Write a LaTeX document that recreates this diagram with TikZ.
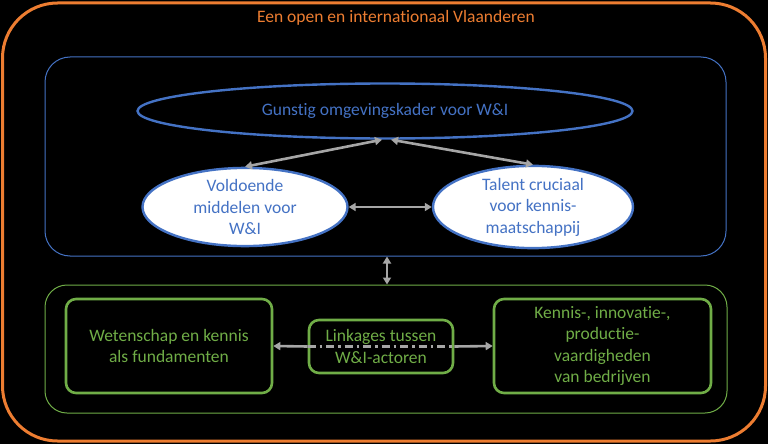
\documentclass[tikz,border=0pt]{standalone}
\usepackage{fontspec}
\setmainfont{Carlito}[Ligatures=NoCommon]
\usetikzlibrary{shapes.geometric,arrows.meta}
\definecolor{orng}{HTML}{ED7D31}
\definecolor{blu}{HTML}{4472C4}
\definecolor{grn}{HTML}{70AD47}
\definecolor{arrgray}{HTML}{A6A6A6}
\begin{document}
\begin{tikzpicture}[x=1pt,y=-1pt,
  txt/.style={font=\fontsize{17.5}{21.5}\selectfont, align=center},
  frame/.style={draw, rounded corners=#1, inner sep=0pt},
  ell/.style={ellipse, draw=blu, line width=2.4pt, inner sep=0pt, txt, text=blu},
  gbox/.style={draw=grn, line width=2.6pt, rounded corners=10pt, inner sep=0pt, txt, text=grn, fill=black},
  tip/.style={Triangle[length=7pt,width=8pt]},
  arr/.style={draw=arrgray, line width=2.6pt, {Triangle[length=7pt,width=8pt]}-{Triangle[length=7pt,width=8pt]}}
]
\useasboundingbox (0,0) rectangle (768,444);
\fill[black] (0,0) rectangle (768,444);
% outer frame
\node[frame=55pt, draw=orng, line width=3pt, minimum width=763pt, minimum height=438pt] (outer) at (384,222) {};
\node[txt, text=orng] (title) at (396,18) {Een open en internationaal Vlaanderen};
% blue frame
\node[frame=25pt, draw=blu, line width=1pt, minimum width=681pt, minimum height=199pt] (bluef) at (385.5,156.5) {};
\node[ell, fill=black, minimum width=495pt, minimum height=55pt] (big) at (385,111) {Gunstig omgevingskader voor W\&I};
\node[ell, fill=white, minimum width=205pt, minimum height=78pt] (left) at (245,207) {Voldoende\\middelen voor\\W\&I};
\node[ell, fill=white, minimum width=200pt, minimum height=78pt] (right) at (533,207) {Talent cruciaal\\voor kennis-\\maatschappij};
\draw[arr] (left.north) -- ([xshift=-3pt]big.south);
\draw[arr] ([xshift=6pt]big.south) -- (right.north);
\draw[arr] (left.east) -- (right.west);
% green frame
\node[frame=22pt, draw=grn, line width=1pt, minimum width=682pt, minimum height=128pt] (greenf) at (386,349) {};
\draw[arr] ([xshift=1.5pt]bluef.south) -- ([xshift=1pt]greenf.north);
\node[gbox, minimum width=206pt, minimum height=94pt] (wet) at (169,346) {Wetenschap en kennis\\als fundamenten};
\node[gbox, minimum width=217pt, minimum height=94pt] (ken) at (602.5,346) {Kennis-, innovatie-,\\productie-\\vaardigheden\\van bedrijven};
\node[gbox, minimum width=144pt, minimum height=53pt] (link) at (381,346.5) {Linkages tussen\\W\&I-actoren};
\draw[draw=arrgray, line width=2.6pt, {Triangle[length=7pt,width=8pt]}-] (wet.east) -- (link.west);
\draw[draw=arrgray, line width=2.6pt, -{Triangle[length=7pt,width=8pt]}] (link.east) -- (ken.west);
\draw[draw=arrgray, line width=2.6pt, dash pattern=on 8pt off 4pt on 2.5pt off 4pt] (link.west) -- (link.east);
\end{tikzpicture}
\end{document}
